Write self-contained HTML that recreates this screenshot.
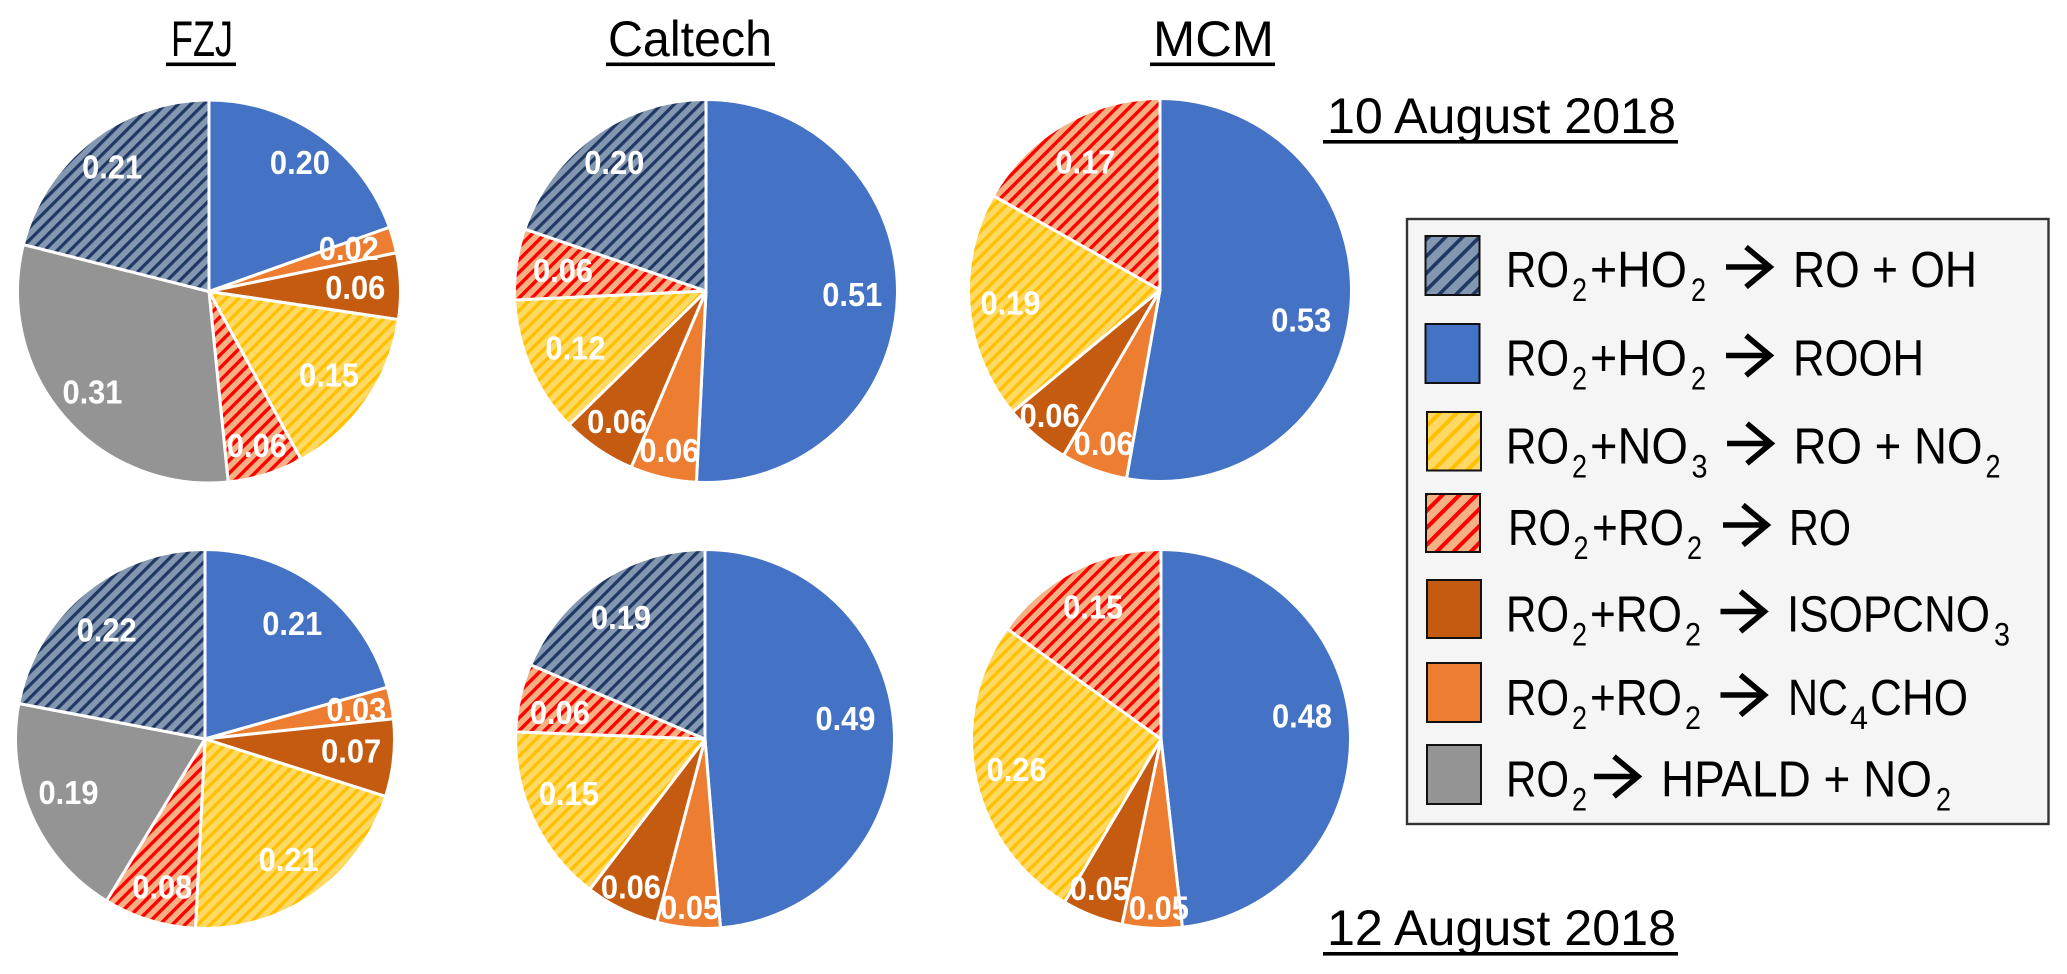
<!DOCTYPE html>
<html lang="en">
<head>
<meta charset="utf-8">
<title>RO2 fate pie charts</title>
<style>
html,body{margin:0;padding:0;background:#fff;width:2067px;height:974px;overflow:hidden}
svg{display:block}
text{font-family:"Liberation Sans",sans-serif}
.h{font-size:50px;fill:#000}
.l{font-size:51px;fill:#000}
.s{font-size:32px;fill:#000}
.v{font-size:33px;font-weight:bold;fill:#fff;text-anchor:middle}
.a{fill:none;stroke:#000;stroke-width:5.5}
.sw{stroke:#111;stroke-width:2}
</style>
</head>
<body>
<svg id="figure" xmlns="http://www.w3.org/2000/svg" width="2067" height="974" viewBox="0 0 2067 974">
<defs>
<pattern id="hatch-navy" width="9" height="9" patternUnits="userSpaceOnUse" patternTransform="rotate(45)"><rect width="9" height="9" fill="#8497B0"/><rect width="3.2" height="9" fill="#1F3864"/></pattern>
<pattern id="hatch-yellow" width="9" height="9" patternUnits="userSpaceOnUse" patternTransform="rotate(45)"><rect width="9" height="9" fill="#FFD966"/><rect width="3.4" height="9" fill="#FFC000"/></pattern>
<pattern id="hatch-red" width="9" height="9" patternUnits="userSpaceOnUse" patternTransform="rotate(45)"><rect width="9" height="9" fill="#F4B183"/><rect width="3.4" height="9" fill="#FF0000"/></pattern>
<pattern id="swatch-navy" width="12" height="12" patternUnits="userSpaceOnUse" patternTransform="rotate(45)"><rect width="12" height="12" fill="#8497B0"/><rect width="3.6" height="12" fill="#1F3864"/></pattern>
<pattern id="swatch-yellow" width="12" height="12" patternUnits="userSpaceOnUse" patternTransform="rotate(45)"><rect width="12" height="12" fill="#FFD966"/><rect width="4" height="12" fill="#FFC000"/></pattern>
<pattern id="swatch-red" width="12" height="12" patternUnits="userSpaceOnUse" patternTransform="rotate(45)"><rect width="12" height="12" fill="#F4B183"/><rect width="4" height="12" fill="#FF0000"/></pattern>
</defs>

<g>
<text class="h" x="171" y="56" textLength="62" lengthAdjust="spacingAndGlyphs">FZJ</text>
<rect x="166" y="62.5" width="70" height="3.6"/>
<text class="h" x="608" y="56" textLength="164" lengthAdjust="spacingAndGlyphs">Caltech</text>
<rect x="606" y="62.5" width="169" height="3.6"/>
<text class="h" x="1153" y="56" textLength="121" lengthAdjust="spacingAndGlyphs">MCM</text>
<rect x="1150" y="62.5" width="125" height="3.6"/>
</g>
<g>
<text class="h" x="1327" y="133" textLength="349" lengthAdjust="spacingAndGlyphs">10 August 2018</text>
<rect x="1323" y="140" width="355" height="3.6"/>
<text class="h" x="1327" y="945" textLength="349" lengthAdjust="spacingAndGlyphs">12 August 2018</text>
<rect x="1323" y="952" width="355" height="3.6"/>
</g>

<g id="pies"></g>

<g>
<rect x="1407" y="219" width="641.5" height="605" fill="#F5F5F5" stroke="#333" stroke-width="2.4"/>

<g>
<rect class="sw" x="1425.5" y="236" width="54" height="59" fill="url(#swatch-navy)"/>
<text>
<tspan class="l" x="1506" y="287" textLength="63" lengthAdjust="spacingAndGlyphs">RO</tspan><tspan class="s" x="1572" y="301" textLength="15" lengthAdjust="spacingAndGlyphs">2</tspan><tspan class="l" x="1590" y="287" textLength="97" lengthAdjust="spacingAndGlyphs">+HO</tspan><tspan class="s" x="1691" y="301" textLength="15" lengthAdjust="spacingAndGlyphs">2</tspan><tspan class="l" x="1793" y="287" textLength="184" lengthAdjust="spacingAndGlyphs">RO + OH</tspan>
</text>
<path class="a" transform="translate(1726,267)" d="M0 0H44M20 -20L44 0L20 20"/>
</g>

<g>
<rect class="sw" x="1425.5" y="324" width="54" height="59" fill="#4472C4"/>
<text>
<tspan class="l" x="1506" y="375.5" textLength="63" lengthAdjust="spacingAndGlyphs">RO</tspan><tspan class="s" x="1572" y="389.5" textLength="15" lengthAdjust="spacingAndGlyphs">2</tspan><tspan class="l" x="1590" y="375.5" textLength="97" lengthAdjust="spacingAndGlyphs">+HO</tspan><tspan class="s" x="1691" y="389.5" textLength="15" lengthAdjust="spacingAndGlyphs">2</tspan><tspan class="l" x="1793" y="375.5" textLength="131" lengthAdjust="spacingAndGlyphs">ROOH</tspan>
</text>
<path class="a" transform="translate(1726,355.5)" d="M0 0H44M20 -20L44 0L20 20"/>
</g>

<g>
<rect class="sw" x="1427" y="412" width="54" height="58.5" fill="url(#swatch-yellow)"/>
<text>
<tspan class="l" x="1506" y="463.5" textLength="63" lengthAdjust="spacingAndGlyphs">RO</tspan><tspan class="s" x="1572" y="477.5" textLength="15" lengthAdjust="spacingAndGlyphs">2</tspan><tspan class="l" x="1590" y="463.5" textLength="98" lengthAdjust="spacingAndGlyphs">+NO</tspan><tspan class="s" x="1691.5" y="477.5" textLength="16" lengthAdjust="spacingAndGlyphs">3</tspan><tspan class="l" x="1793.5" y="463.5" textLength="189" lengthAdjust="spacingAndGlyphs">RO + NO</tspan><tspan class="s" x="1985.5" y="477.5" textLength="15" lengthAdjust="spacingAndGlyphs">2</tspan>
</text>
<path class="a" transform="translate(1727,443.5)" d="M0 0H44M20 -20L44 0L20 20"/>
</g>

<g>
<rect class="sw" x="1426" y="494" width="54" height="58" fill="url(#swatch-red)"/>
<text>
<tspan class="l" x="1508" y="545" textLength="63" lengthAdjust="spacingAndGlyphs">RO</tspan><tspan class="s" x="1573.5" y="559" textLength="15" lengthAdjust="spacingAndGlyphs">2</tspan><tspan class="l" x="1592" y="545" textLength="92" lengthAdjust="spacingAndGlyphs">+RO</tspan><tspan class="s" x="1687" y="559" textLength="15" lengthAdjust="spacingAndGlyphs">2</tspan><tspan class="l" x="1789" y="545" textLength="62" lengthAdjust="spacingAndGlyphs">RO</tspan>
</text>
<path class="a" transform="translate(1723,525)" d="M0 0H44M20 -20L44 0L20 20"/>
</g>

<g>
<rect class="sw" x="1427" y="580" width="54" height="58" fill="#C55A11"/>
<text>
<tspan class="l" x="1506" y="631.5" textLength="63" lengthAdjust="spacingAndGlyphs">RO</tspan><tspan class="s" x="1572" y="645.5" textLength="15" lengthAdjust="spacingAndGlyphs">2</tspan><tspan class="l" x="1590" y="631.5" textLength="92" lengthAdjust="spacingAndGlyphs">+RO</tspan><tspan class="s" x="1685" y="645.5" textLength="16" lengthAdjust="spacingAndGlyphs">2</tspan><tspan class="l" x="1787" y="631.5" textLength="203" lengthAdjust="spacingAndGlyphs">ISOPCNO</tspan><tspan class="s" x="1994" y="645.5" textLength="16" lengthAdjust="spacingAndGlyphs">3</tspan>
</text>
<path class="a" transform="translate(1720.5,611.5)" d="M0 0H44M20 -20L44 0L20 20"/>
</g>

<g>
<rect class="sw" x="1427" y="663" width="54" height="59" fill="#ED7D31"/>
<text>
<tspan class="l" x="1506" y="715" textLength="63" lengthAdjust="spacingAndGlyphs">RO</tspan><tspan class="s" x="1572" y="729" textLength="15" lengthAdjust="spacingAndGlyphs">2</tspan><tspan class="l" x="1590" y="715" textLength="92" lengthAdjust="spacingAndGlyphs">+RO</tspan><tspan class="s" x="1685" y="729" textLength="16" lengthAdjust="spacingAndGlyphs">2</tspan><tspan class="l" x="1788" y="715" textLength="60" lengthAdjust="spacingAndGlyphs">NC</tspan><tspan class="s" x="1850" y="729" textLength="18" lengthAdjust="spacingAndGlyphs">4</tspan><tspan class="l" x="1870" y="715" textLength="98" lengthAdjust="spacingAndGlyphs">CHO</tspan>
</text>
<path class="a" transform="translate(1720.5,695)" d="M0 0H44M20 -20L44 0L20 20"/>
</g>

<g>
<rect class="sw" x="1427" y="745" width="54" height="59" fill="#949494"/>
<text>
<tspan class="l" x="1506" y="796.5" textLength="63" lengthAdjust="spacingAndGlyphs">RO</tspan><tspan class="s" x="1572" y="810.5" textLength="15" lengthAdjust="spacingAndGlyphs">2</tspan><tspan class="l" x="1661" y="796.5" textLength="271" lengthAdjust="spacingAndGlyphs">HPALD + NO</tspan><tspan class="s" x="1936" y="810.5" textLength="15" lengthAdjust="spacingAndGlyphs">2</tspan>
</text>
<path class="a" transform="translate(1594,776.5)" d="M0 0H44M20 -20L44 0L20 20"/>
</g>
</g>
</svg>

<script>
// Reaction pathways, in clockwise drawing order from 12 o'clock
const pathways = ['rooh', 'nc4cho', 'isopcno3', 'no3', 'ro2-ro', 'hpald', 'ro-oh'];
const pathwayFills = ['#4472C4', '#ED7D31', '#C55A11', 'url(#hatch-yellow)', 'url(#hatch-red)', '#949494', 'url(#hatch-navy)'];

// Branching fractions
const fzjAug10     = [0.196, 0.022, 0.056, 0.147, 0.064, 0.306, 0.211];
const caltechAug10 = [0.509, 0.056, 0.063, 0.116, 0.060, 0,     0.198];
const mcmAug10     = [0.528, 0.056, 0.056, 0.192, 0.168, 0,     0];
const fzjAug12     = [0.206, 0.027, 0.066, 0.209, 0.079, 0.193, 0.220];
const caltechAug12 = [0.487, 0.054, 0.063, 0.152, 0.058, 0,     0.186];
const mcmAug12     = [0.482, 0.051, 0.052, 0.264, 0.151, 0,     0];

// Chart frames and label placement (layout, separate from the data)
const pieLayout = [
  {name:'fzj-10-august',     values:fzjAug10,     cx:209,  cy:291.5, r:190, reach:[.83,.77,.77,.77,.85,.81,.83], turn:[0,-1.5,0,0,0,0,0]},
  {name:'caltech-10-august', values:caltechAug10, cx:706,  cy:291,   r:190, reach:[.77,.86,.83,.75,.76,0,.83],   turn:[0,0,0,0,0,0,0]},
  {name:'mcm-10-august',     values:mcmAug10,     cx:1160, cy:290,   r:190, reach:[.76,.86,.88,.79,.78,0,0],     turn:[7,0,1,0,0,0,0]},
  {name:'fzj-12-august',     values:fzjAug12,     cx:205,  cy:739,   r:188, reach:[.77,.82,.78,.78,.82,.78,.78], turn:[0,0,-1,0,-1,2.5,-2.5]},
  {name:'caltech-12-august', values:caltechAug12, cx:705,  cy:739,   r:188, reach:[.755,.90,.88,.78,.785,0,.785],turn:[-6,0,.5,3.4,-2.2,0,-1.2]},
  {name:'mcm-12-august',     values:mcmAug12,     cx:1161, cy:739,   r:188, reach:[.76,.90,.86,.785,.79,0,0],    turn:[-6,-2,1,0,0,0,0]}
];

const SVG_NS = 'http://www.w3.org/2000/svg';
const STROKE_PAD = 1.5;
const LABEL_WIDTH = 60;
const root = document.getElementById('pies');

function point(cx, cy, r, turnDeg) {
  const a = turnDeg * Math.PI / 180;
  return [cx + r * Math.sin(a), cy - r * Math.cos(a)];
}

function drawPie(p) {
  const group = document.createElementNS(SVG_NS, 'g');
  
  
  root.appendChild(group);
  const total = p.values.reduce((a, b) => a + b, 0);
  const labels = [];
  let running = 0;
  p.values.forEach((v, i) => {
    if (!v) return;
    const start = running / total * 360;
    running += v;
    const end = running / total * 360;
    const R = p.r + STROKE_PAD;
    const s = point(p.cx, p.cy, R, start);
    const e = point(p.cx, p.cy, R, end);
    const large = end - start > 180 ? 1 : 0;
    const slice = document.createElementNS(SVG_NS, 'path');
    slice.setAttribute('d', 'M' + p.cx + ' ' + p.cy + 'L' + s[0] + ' ' + s[1] + 'A' + R + ' ' + R + ' 0 ' + large + ' 1 ' + e[0] + ' ' + e[1] + 'Z');
    slice.setAttribute('fill', pathwayFills[i]);
    slice.setAttribute('stroke', '#fff');
    slice.setAttribute('stroke-width', '3');
    slice.setAttribute('stroke-linejoin', 'round');
    
    
    group.appendChild(slice);
    const at = point(p.cx, p.cy, p.r * p.reach[i], (start + end) / 2 + p.turn[i]);
    labels.push({at: at, v: v, key: pathways[i]});
  });
  labels.forEach(l => {
    const t = document.createElementNS(SVG_NS, 'text');
    t.setAttribute('class', 'v');
    t.setAttribute('x', l.at[0]);
    t.setAttribute('y', l.at[1] + 11.5);
    t.setAttribute('textLength', LABEL_WIDTH);
    t.setAttribute('lengthAdjust', 'spacingAndGlyphs');
    
    
    t.textContent = l.v.toFixed(2);
    group.appendChild(t);
  });
}

pieLayout.forEach(drawPie);
</script>
</body>
</html>
